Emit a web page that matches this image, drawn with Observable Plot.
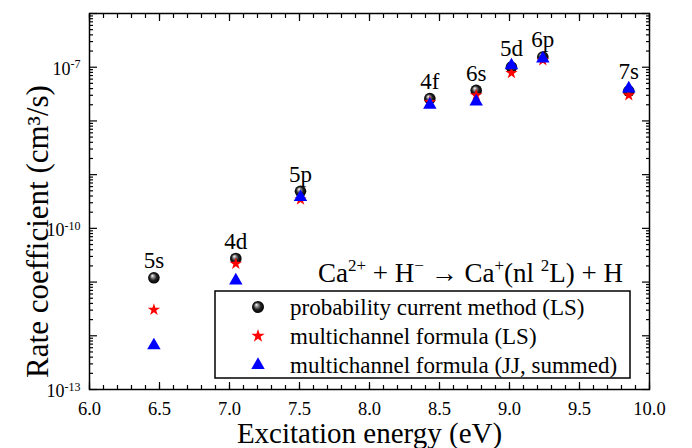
<!DOCTYPE html>
<html><head><meta charset="utf-8">
<script src="https://cdn.jsdelivr.net/npm/d3@7"></script>
<script src="https://cdn.jsdelivr.net/npm/@observablehq/plot@0.6"></script>
<style>body{margin:0;background:#fff} #chart{width:692px;height:448px;position:relative}</style>
</head><body><div id="chart"></div>
<script>
// ---- data ----
const levels      = ["5s", "4d", "5p", "4f", "6s", "5d", "6p", "7s"];
const energy      = [6.46, 7.045, 7.507, 8.431, 8.762, 9.014, 9.238, 9.852];
const probCurrent = [1.2e-11, 2.75e-11, 4.9e-10, 2.6e-8, 3.7e-8, 1.0e-7, 1.55e-7, 3.6e-8];
const multiLS     = [3.05e-12, 2.2e-11, 3.45e-10, 2.25e-8, 3.0e-8, 7.8e-8, 1.35e-7, 3.0e-8];
const multiJJ     = [6.6e-13, 1.07e-11, 3.8e-10, 2.0e-8, 2.3e-8, 1.08e-7, 1.45e-7, 4.0e-8];
const seriesNames = ["probability current method (LS)", "multichannel formula (LS)", "multichannel formula (JJ, summed)"];
const xTickLabels = [6.0, 6.5, 7.0, 7.5, 8.0, 8.5, 9.0, 9.5, 10.0];
const yTickLabels = [1e-13, 1e-10, 1e-7];
const xTitle = "Excitation energy (eV)";
const yTitle = "Rate coefficient (cm\u00B3/s)";

// ---- derived ----
const rows = levels.map((l, i) => ({
  level: l, e: energy[i], p: probCurrent[i], ls: multiLS[i], jj: multiJJ[i],
  top: Math.max(probCurrent[i], multiLS[i], multiJJ[i])
}));
const xMinor = d3.range(60, 101).map(d => d / 10);
const yMajor = d3.range(-13, -5).map(e => Math.pow(10, e));
const yMinor = d3.range(-13, -6).flatMap(e => d3.range(2, 10).map(k => k * Math.pow(10, e)));

const font = "Liberation Serif";
const tickOpts = {fill: "none", label: null, strokeWidth: 1.2};

const plot = Plot.plot({
  width: 692, height: 448,
  marginLeft: 89, marginRight: 43, marginTop: 13, marginBottom: 59,
  x: {domain: [6, 10], label: null},
  y: {type: "log", domain: [1e-13, 1e-6], label: null},
  style: {fontFamily: font, fontSize: "17px", color: "#000", background: "#fff", overflow: "visible"},
  marks: [
    Plot.axisX(xMinor, {anchor: "bottom", tickSize: -4, ...tickOpts}),
    Plot.axisX(xMinor, {anchor: "top", tickSize: -4, ...tickOpts}),
    Plot.axisX(xTickLabels, {anchor: "bottom", tickSize: -7, ...tickOpts}),
    Plot.axisX(xTickLabels, {anchor: "top", tickSize: -7, ...tickOpts}),
    Plot.axisY(yMinor, {anchor: "left", tickSize: -4, ...tickOpts}),
    Plot.axisY(yMinor, {anchor: "right", tickSize: -4, ...tickOpts}),
    Plot.axisY(yMajor, {anchor: "left", tickSize: -8, ...tickOpts}),
    Plot.axisY(yMajor, {anchor: "right", tickSize: -8, ...tickOpts}),
    // tick labels
    Plot.text(xTickLabels, {x: d => d, frameAnchor: "bottom", lineAnchor: "middle", textAnchor: "middle", dy: 20,
      text: d => d3.format(".1f")(d), fontSize: 18.5, fontFamily: font, fill: "#000"}),
    Plot.text(yTickLabels, {y: d => d, frameAnchor: "left", lineAnchor: "middle", textAnchor: "end", dx: -9, dy: 2,
      text: d => "10^" + Math.round(Math.log10(d)), fontSize: 18, fontFamily: font, fill: "#000"}),
    Plot.frame({stroke: "#000", strokeWidth: 1.5}),
    Plot.dot(rows, {x: "e", y: "p", r: 5.8, fill: "url(#ball)", stroke: "none"}),
    Plot.dot(rows, {x: "e", y: "ls", symbol: "star", r: 3.9, fill: "#ff0000", stroke: "none"}),
    Plot.dot(rows, {x: "e", y: "jj", symbol: "triangle", r: 5, fill: "#0000ff", stroke: "none"}),
    Plot.text(rows, {x: "e", y: "top", text: "level", dy: -17, fontSize: 23, fontFamily: font, fill: "#000"}),
    Plot.text([xTitle], {frameAnchor: "bottom", textAnchor: "middle", lineAnchor: "middle", dy: 44, fontSize: 29, fontFamily: font, fill: "#000"}),
    Plot.text([yTitle], {frameAnchor: "left", textAnchor: "middle", lineAnchor: "middle", rotate: -90, dx: -51, dy: 30, fontSize: 31, fontFamily: font, fill: "#000"})
  ]
});
document.getElementById("chart").appendChild(plot);

const svg = d3.select(plot);
// gradient for shaded balls
const defs = svg.insert("defs", ":first-child");
const g = defs.append("radialGradient").attr("id", "ball").attr("cx", "0.5").attr("cy", "0.5").attr("r", "0.5").attr("fx", "0.35").attr("fy", "0.3");
g.append("stop").attr("offset", "0").attr("stop-color", "#ffffff");
g.append("stop").attr("offset", "0.25").attr("stop-color", "#9a9a9a");
g.append("stop").attr("offset", "0.6").attr("stop-color", "#222");
g.append("stop").attr("offset", "1").attr("stop-color", "#000");

// superscript exponents on y tick labels
svg.selectAll("text").each(function() {
  const t = this.textContent;
  if (!/^10\^-\d+$/.test(t)) return;
  const [base, exp] = t.split("^");
  const sel = d3.select(this);
  sel.text("");
  sel.append("tspan").text(base);
  sel.append("tspan").attr("dy", "-0.55em").attr("font-size", "12px").text(exp);
});

// reaction equation and legend
const over = svg.append("g").attr("font-family", font).attr("fill", "#000");
const eq = over.append("text").attr("x", 623).attr("y", 282).attr("text-anchor", "end").attr("font-size", 27);
const parts = [["Ca",0],["2+",1],[" + H",0],["\u2212",1],[" \u2192 Ca",0],["+",1],["(nl ",0],["2",1],["L) + H",0]];
let lastSup = false;
parts.forEach(([s, sup]) => {
  const ts = eq.append("tspan").text(s);
  if (sup && !lastSup) ts.attr("dy", -11).attr("font-size", 17);
  else if (!sup && lastSup) ts.attr("dy", 11);
  else if (sup) ts.attr("font-size", 17);
  lastSup = !!sup;
});

const lg = over.append("g");
lg.append("rect").attr("x", 215).attr("y", 291).attr("width", 415).attr("height", 87)
  .attr("fill", "#fff").attr("stroke", "#000").attr("stroke-width", 1.5);
const rowY = [307, 336, 365];
const sym = [
  {fill: "url(#ball)", path: d3.symbol(d3.symbolCircle, Math.PI * 6 * 6)()},
  {fill: "#ff0000", path: d3.symbol(d3.symbolStar, Math.PI * 4.2 * 4.2)()},
  {fill: "#0000ff", path: d3.symbol(d3.symbolTriangle, Math.PI * 5 * 5)()}
];
seriesNames.forEach((name, i) => {
  lg.append("path").attr("d", sym[i].path).attr("fill", sym[i].fill).attr("transform", `translate(258,${rowY[i]})`);
  lg.append("text").attr("x", 290).attr("y", rowY[i]).attr("dy", "0.33em").attr("text-anchor", "start").attr("font-size", 23).text(name);
});
</script>
</body></html>
